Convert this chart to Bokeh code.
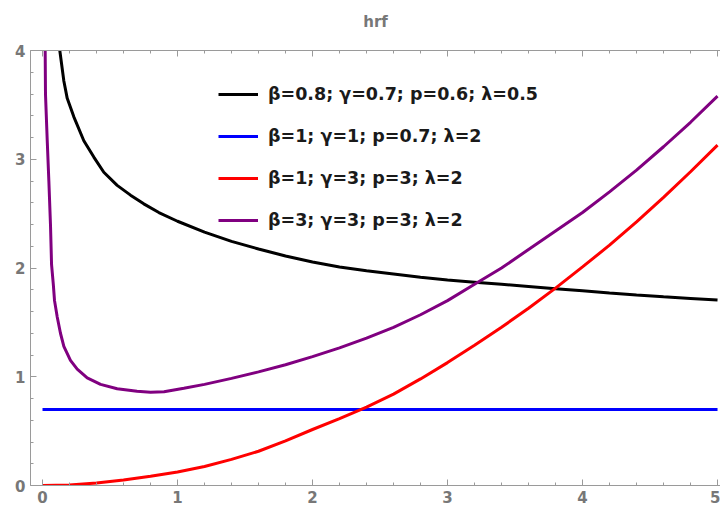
from bokeh.plotting import figure
from bokeh.models import (Range1d, LinearAxis, Legend, LegendItem,
                          SingleIntervalTicker, CustomLabelingPolicy)
from bokeh.embed import file_html
from bokeh.resources import INLINE

# ---- data ----
title_text = "hrf"

labels = ["β=0.8; γ=0.7; p=0.6; λ=0.5",
          "β=1; γ=1; p=0.7; λ=2",
          "β=1; γ=3; p=3; λ=2",
          "β=3; γ=3; p=3; λ=2"]

black_x = [0.110, 0.128, 0.158, 0.183, 0.232, 0.306, 0.380, 0.454, 0.553, 0.652,
           0.750, 0.862, 1.0, 1.2, 1.4, 1.6, 1.8, 2.0, 2.2, 2.4,
           2.6, 2.8, 3.0, 3.2, 3.4, 3.6, 3.8, 4.0, 4.2, 4.4,
           4.6, 4.8, 5.0]
black_y = [4.20, 4.00, 3.72, 3.56, 3.39, 3.17, 3.02, 2.88, 2.76, 2.67,
           2.59, 2.51, 2.43, 2.33, 2.245, 2.175, 2.11, 2.055, 2.01, 1.975,
           1.945, 1.915, 1.89, 1.87, 1.85, 1.83, 1.81, 1.79, 1.77, 1.752,
           1.735, 1.72, 1.705]

blue_x = [0.0, 5.0]
blue_y = [0.70, 0.70]

red_x = [0.0, 0.2, 0.4, 0.6, 0.8, 1.0, 1.2, 1.4, 1.6, 1.8,
         2.0, 2.2, 2.4, 2.6, 2.8, 3.0, 3.2, 3.4, 3.6, 3.8,
         4.0, 4.2, 4.4, 4.6, 4.8, 5.0]
red_y = [0.0, 0.005, 0.022, 0.05, 0.085, 0.125, 0.175, 0.24, 0.315, 0.41,
         0.515, 0.615, 0.72, 0.84, 0.98, 1.13, 1.29, 1.455, 1.63, 1.815,
         2.01, 2.21, 2.425, 2.65, 2.885, 3.13]

purple_x = [0.018, 0.022, 0.035, 0.047, 0.059, 0.067, 0.080, 0.089, 0.109, 0.133,
            0.158, 0.207, 0.257, 0.331, 0.430, 0.553, 0.700, 0.800, 0.900, 1.047,
            1.2, 1.4, 1.6, 1.8, 2.0, 2.2, 2.4, 2.6, 2.8, 3.0,
            3.2, 3.4, 3.6, 3.8, 4.0, 4.2, 4.4, 4.6, 4.8, 5.0]
purple_y = [4.30, 3.60, 3.17, 2.80, 2.40, 2.03, 1.85, 1.70, 1.55, 1.40,
            1.28, 1.15, 1.07, 0.99, 0.93, 0.89, 0.866, 0.858, 0.862, 0.895,
            0.93, 0.985, 1.045, 1.11, 1.185, 1.265, 1.355, 1.455, 1.57, 1.70,
            1.85, 2.00, 2.17, 2.34, 2.51, 2.70, 2.90, 3.115, 3.34, 3.58]

series = [(black_x, black_y, "#000000"),
          (blue_x, blue_y, "#0000ff"),
          (red_x, red_y, "#ff0000"),
          (purple_x, purple_y, "#800080")]

FONT = "DejaVu Sans"
AX = "#9a9a9a"
LAB = "#777777"

p = figure(width=720, height=508, output_backend="svg", toolbar_location=None,
           x_range=Range1d(-0.089, 5.022), y_range=Range1d(0, 4),
           min_border_left=30, min_border_right=0, min_border_top=50,
           min_border_bottom=23, x_axis_location=None, y_axis_location=None)
p.outline_line_color = None
p.xgrid.visible = False
p.ygrid.visible = False

p.title.text = title_text
p.title.align = "center"
p.title.text_font = FONT
p.title.text_font_size = "15px"
p.title.text_font_style = "bold"
p.title.text_color = LAB


def style_axis(ax, show_labels=True):
    ax.ticker = SingleIntervalTicker(interval=1, num_minor_ticks=5)
    ax.axis_line_color = AX
    ax.major_tick_line_color = AX
    ax.minor_tick_line_color = AX
    ax.major_tick_in = 6
    ax.major_tick_out = 0
    ax.minor_tick_in = 3
    ax.minor_tick_out = 0
    ax.major_label_text_font = FONT
    ax.major_label_text_font_style = "bold"
    ax.major_label_text_color = LAB
    ax.major_label_text_font_size = "15px"
    if show_labels:
        ax.major_label_standoff = 5
    else:
        ax.major_label_standoff = 0
        ax.major_label_policy = CustomLabelingPolicy(code="""
            const all = Array.from(indices)
            for (const i of all) indices.unset(i)
            return indices
        """)


xb = LinearAxis()
style_axis(xb)
p.add_layout(xb, "below")
yl = LinearAxis()
style_axis(yl)
p.add_layout(yl, "left")
xt = LinearAxis()
style_axis(xt, show_labels=False)
p.add_layout(xt, "above")

renderers = []
for xs, ys, c in series:
    r = p.line(xs, ys, line_color=c, line_width=3)
    renderers.append(r)

legend = Legend(items=[LegendItem(label=l, renderers=[r]) for l, r in zip(labels, renderers)],
                location=(188, 255))
legend.label_text_font = FONT
legend.label_text_font_style = "bold"
legend.label_text_font_size = "17.5px"
legend.label_text_color = "#1a1a1a"
legend.glyph_width = 40
legend.glyph_height = 20
legend.label_height = 20
legend.spacing = 22
legend.padding = 0
legend.margin = 0
legend.label_standoff = 10
legend.border_line_color = None
legend.background_fill_alpha = 0
p.add_layout(legend, "center")

open("out.html", "w").write(file_html(p, INLINE))
